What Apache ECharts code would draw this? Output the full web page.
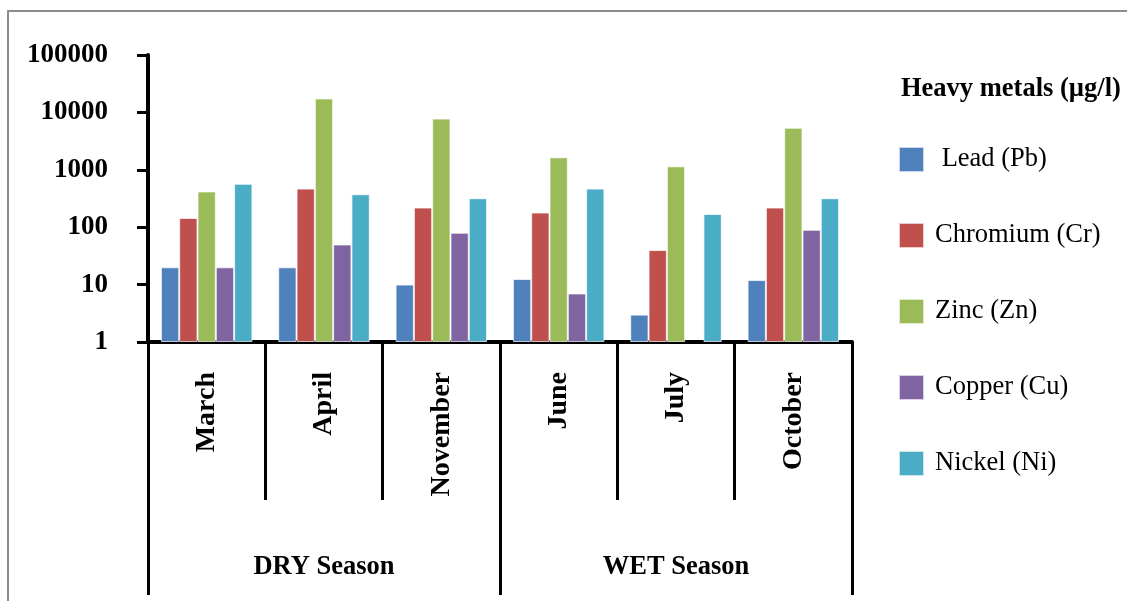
<!DOCTYPE html>
<html>
<head>
<meta charset="utf-8">
<style>
  html, body { margin: 0; padding: 0; background: #fff; }
  #chart { width: 1127px; height: 601px; }
</style>
<script src="https://cdn.jsdelivr.net/npm/echarts@6/dist/echarts.min.js"></script>
</head>
<body>
<div id="chart"></div>
<script>
// months grouped by season
const months = ['March', 'April', 'November', 'June', 'July', 'October']
const seasons = ['DRY Season', 'WET Season']

// heavy metal concentrations (µg/l)
const lead = [20, 20, 10, 12.5, 3, 12]
const chromium = [145, 470, 220, 180, 40, 220]
const zinc = [420, 17500, 7800, 1650, 1150, 5400]
const copper = [20, 50, 80, 7, '-', 90]
const nickel = [570, 375, 320, 470, 170, 320]

const seriesNames = [' Lead (Pb)', 'Chromium (Cr)', 'Zinc (Zn)', 'Copper (Cu)', 'Nickel (Ni)']
const seriesData = [lead, chromium, zinc, copper, nickel]
const colors = ['#4F81BD', '#C0504D', '#9BBB59', '#8064A2', '#4BACC6']

const font = 'Liberation Serif'

const chart = echarts.init(document.getElementById('chart'))

const series = seriesNames.map((name, i) => ({
  name: name,
  type: 'bar',
  xAxisIndex: 0,
  data: seriesData[i],
  barGap: '0%',
  barCategoryGap: '22%',
  itemStyle: {
    color: colors[i],
    borderColor: 'rgba(255,255,255,0.7)',
    borderWidth: 1
  }
}))

const option = {
  animation: false,
  color: colors,
  title: {
    text: 'Heavy metals (µg/l)',
    left: 901,
    top: 76,
    padding: 0,
    textStyle: {
      fontFamily: font,
      fontWeight: 'bold',
      fontSize: 26.5,
      color: '#000'
    }
  },
  legend: {
    orient: 'vertical',
    left: 898,
    top: 146,
    padding: 0,
    itemWidth: 25,
    itemHeight: 25,
    itemGap: 49,
    icon: 'rect',
    data: seriesNames,
    textStyle: {
      fontFamily: font,
      fontSize: 26.5,
      lineHeight: 26,
      color: '#000',
      padding: [0, 0, 0, 6]
    }
  },
  grid: {
    left: 148,
    right: 275,
    top: 55,
    bottom: 259,
    containLabel: false
  },
  xAxis: [
    {
      type: 'category',
      data: months,
      position: 'bottom',
      axisLine: { lineStyle: { color: '#000', width: 4 } },
      axisTick: {
        show: true,
        interval: 0,
        length: 158,
        lineStyle: { color: '#000', width: 3 }
      },
      axisLabel: {
        interval: 0,
        rotate: 90,
        margin: 30,
        fontFamily: font,
        fontWeight: 'bold',
        fontSize: 28,
        color: '#000'
      }
    },
    {
      type: 'category',
      data: seasons,
      position: 'bottom',
      axisLine: { show: false },
      axisTick: {
        show: true,
        interval: 0,
        length: 253,
        lineStyle: { color: '#000', width: 3 }
      },
      axisLabel: {
        interval: 0,
        margin: 212,
        fontFamily: font,
        fontWeight: 'bold',
        fontSize: 26.5,
        color: '#000'
      }
    }
  ],
  yAxis: {
    type: 'log',
    logBase: 10,
    min: 1,
    max: 100000,
    axisLine: { show: true, lineStyle: { color: '#000', width: 4 } },
    axisTick: { show: true, length: 11, lineStyle: { color: '#000', width: 3 } },
    splitLine: { show: false },
    axisLabel: {
      margin: 40,
      fontFamily: font,
      fontWeight: 'bold',
      fontSize: 27,
      color: '#000',
      formatter: function (value) {
        return String(Math.round(value))
      }
    }
  },
  graphic: [
    {
      type: 'rect',
      shape: { x: 8, y: 11, width: 1300, height: 800 },
      style: { fill: 'none', stroke: '#8c8c8c', lineWidth: 2 },
      silent: true
    }
  ],
  series: series
}

chart.setOption(option)
</script>
</body>
</html>
